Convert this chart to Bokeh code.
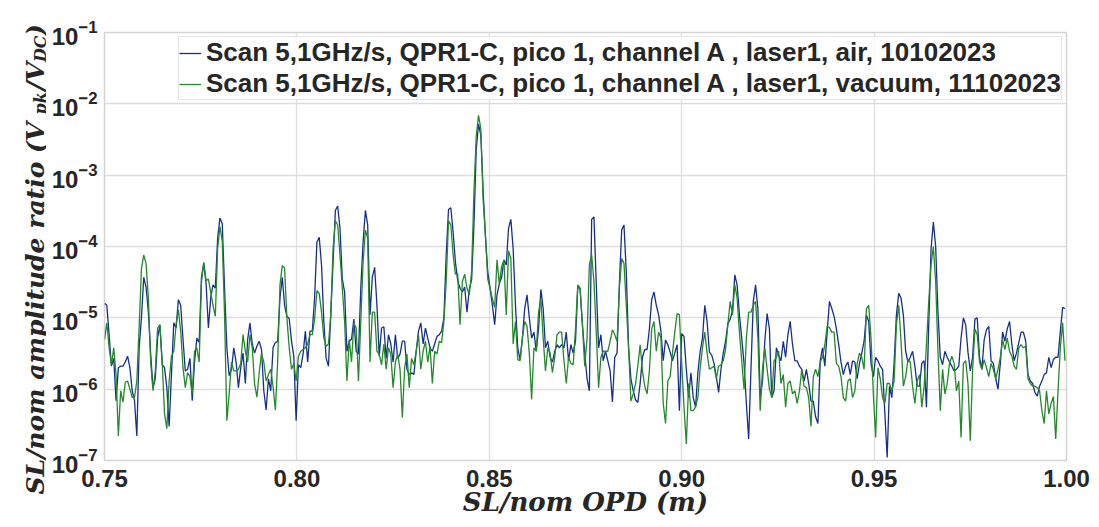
import math
from bokeh.plotting import figure
from bokeh.layouts import row
from bokeh.models import (FixedTicker, LogTickFormatter, PrintfTickFormatter,
                          Legend, LegendItem, Label, Range1d)
from bokeh.embed import file_html
from bokeh.resources import INLINE

# ---------------- data ----------------
X_START = 0.75
X_STEP = 0.0006

x_ticks = [0.75, 0.80, 0.85, 0.90, 0.95, 1.00]
y_ticks = [1e-7, 1e-6, 1e-5, 1e-4, 1e-3, 1e-2, 1e-1]

label_air = "Scan 5,1GHz/s, QPR1-C, pico 1, channel A , laser1, air, 10102023"
label_vac = "Scan 5,1GHz/s, QPR1-C, pico 1, channel A , laser1, vacuum, 11102023"
x_title = "SL/nom OPD (m)"

air = [
    1.6e-5, 1.5e-5, 5.8e-6, 2.1e-6, 2.7e-6, 6.9e-7, 2.0e-6, 2.1e-6, 2.1e-6, 2.4e-6,
    2.9e-6, 2.0e-6, 9.5e-7, 6.9e-7, 2.2e-7, 3.8e-6, 1.0e-5, 3.7e-5, 2.7e-5, 1.2e-5,
    3.1e-6, 1.05e-6, 1.4e-6, 5.2e-6, 8.0e-6, 2.2e-6, 2.0e-6, 1.05e-6, 3.0e-7, 1.6e-6,
    8.5e-6, 7.2e-6, 1.8e-5, 1.5e-5, 5.0e-6, 1.8e-6, 1.9e-6, 2.7e-6, 6.9e-7, 2.4e-6,
    5.2e-6, 4.5e-6, 3.7e-5, 5.8e-5, 3.0e-5, 7.2e-6, 1.9e-5, 2.9e-5, 2.6e-5, 1.3e-4,
    2.5e-4, 2.1e-4, 2.6e-5, 3.8e-6, 1.55e-6, 1.9e-6, 3.8e-6, 2.4e-6, 1.05e-6, 2.0e-6,
    3.2e-6, 1.2e-6, 5.0e-6, 8.5e-6, 4.3e-6, 3.2e-6, 4.0e-6, 4.7e-6, 3.6e-6, 9.5e-7,
    5.1e-7, 1.4e-6, 9.5e-7, 3.8e-6, 4.5e-6, 4.7e-6, 1.9e-5, 3.7e-5, 1.5e-5, 1.05e-5,
    9.8e-6, 4.7e-6, 2.9e-6, 3.6e-7, 2.2e-6, 2.0e-6, 3.1e-6, 6.5e-6, 2.4e-6, 6.5e-6,
    6.5e-6, 1.9e-5, 1.15e-4, 1.35e-4, 5.5e-5, 8.9e-6, 2.7e-6, 2.1e-6, 1.1e-5, 6.0e-5,
    3.2e-4, 3.7e-4, 1.8e-4, 3.5e-5, 2.3e-5, 3.4e-6, 4.7e-6, 5.0e-6, 9.6e-6, 3.4e-6,
    3.1e-6, 2.6e-5, 1.15e-4, 3.2e-4, 2.0e-4, 1.1e-5, 3.7e-5, 5.1e-5, 1.5e-5, 2.9e-6,
    7.2e-6, 7.5e-6, 2.7e-6, 5.8e-6, 4.3e-6, 2.4e-6, 5.8e-6, 2.7e-6, 3.1e-6, 4.7e-6,
    4.7e-6, 1.9e-6, 1.6e-6, 1.7e-6, 1.6e-6, 3.4e-6, 6.5e-6, 8.5e-6, 4.3e-6, 7.2e-6,
    5.2e-6, 3.8e-6, 3.4e-6, 4.3e-6, 5.5e-6, 5.8e-6, 6.5e-6, 1.0e-5, 7.6e-5, 3.3e-4,
    3.5e-4, 1.6e-4, 6.0e-5, 3.3e-5, 2.6e-5, 2.3e-5, 2.7e-5, 1.2e-5, 2.5e-5, 3.4e-5,
    1.9e-4, 2.3e-3, 5.2e-3, 3.6e-3, 6.0e-4, 1.4e-4, 4.4e-5, 2.6e-5, 1.5e-5, 8.0e-6,
    2.1e-5, 3.0e-5, 3.7e-5, 6.5e-5, 5.5e-5, 1.8e-4, 2.4e-4, 9.3e-5, 1.5e-5, 3.8e-6,
    2.6e-6, 5.2e-6, 1.35e-5, 2.1e-5, 1.0e-5, 5.2e-6, 6.3e-6, 3.4e-6, 7.0e-6, 2.5e-5,
    1.35e-5, 3.8e-6, 4.7e-6, 2.8e-6, 2.4e-6, 3.4e-6, 4.2e-6, 3.8e-6, 4.2e-6, 3.8e-6,
    6.3e-6, 2.5e-6, 4.2e-6, 3.2e-6, 4.7e-6, 2.8e-5, 2.5e-5, 8.0e-6, 3.2e-6, 1.4e-6,
    9.5e-7, 2.4e-4, 2.6e-4, 2.9e-5, 3.8e-6, 5.8e-6, 2.5e-6, 3.4e-6, 2.5e-6, 1.8e-6,
    6.6e-7, 2.8e-6, 3.2e-6, 2.9e-5, 1.7e-4, 2.0e-4, 4.4e-5, 3.8e-6, 1.4e-6, 9.5e-7,
    7.1e-7, 6.5e-7, 1.2e-6, 2.8e-6, 3.6e-6, 3.6e-6, 7.0e-6, 1.8e-5, 2.3e-5, 1.5e-5,
    1.1e-5, 6.5e-6, 2.5e-6, 4.9e-6, 4.2e-6, 3.3e-6, 2.5e-6, 3.2e-6, 4.2e-6, 5.0e-7,
    6.0e-6, 5.5e-6, 1.9e-6, 7.6e-7, 1.7e-6, 7.6e-7, 5.6e-7, 1.7e-6, 3.4e-6, 5.2e-6,
    1.5e-5, 8.9e-6, 3.3e-6, 3.0e-6, 2.3e-6, 1.5e-6, 9.0e-7, 1.9e-6, 3.2e-6, 4.7e-6,
    8.3e-6, 9.6e-6, 1.25e-5, 4.0e-5, 2.9e-5, 1.1e-5, 5.2e-6, 2.3e-6, 6.3e-7, 2.0e-7,
    1.9e-6, 1.7e-5, 2.9e-5, 1.35e-5, 7.6e-7, 1.3e-6, 4.7e-6, 1.15e-5, 7.0e-6, 7.6e-7,
    9.5e-7, 3.8e-6, 3.0e-6, 2.5e-6, 4.7e-6, 2.8e-6, 5.8e-6, 8.9e-6, 4.2e-6, 2.5e-6,
    2.5e-6, 2.1e-6, 1.9e-6, 1.3e-6, 1.9e-6, 1.2e-6, 6.8e-7, 6.8e-7, 4.1e-7, 3.3e-7,
    2.5e-6, 3.8e-6, 2.1e-6, 6.3e-6, 1.7e-5, 1.35e-5, 1.05e-5, 7.0e-6, 4.2e-6, 2.4e-6,
    1.6e-6, 2.1e-6, 2.4e-6, 1.6e-6, 2.5e-6, 2.4e-6, 1.4e-6, 2.3e-6, 3.2e-6, 4.7e-6,
    1.1e-5, 8.9e-6, 2.3e-6, 1.5e-6, 2.8e-6, 2.5e-6, 2.1e-6, 1.9e-6, 4.5e-7, 1.1e-7,
    1.1e-6, 7.6e-7, 2.3e-6, 1.1e-5, 2.2e-5, 1.9e-5, 1.1e-5, 3.4e-6, 2.4e-6, 2.8e-6,
    3.4e-6, 2.1e-6, 1.1e-6, 1.1e-6, 2.3e-6, 2.5e-6, 5.6e-7, 8.0e-6, 9.3e-5, 2.2e-4,
    1.0e-4, 1.2e-5, 2.8e-6, 2.2e-6, 3.4e-6, 2.8e-6, 2.4e-6, 2.1e-6, 1.8e-6, 1.9e-6,
    2.1e-6, 5.2e-6, 1.0e-5, 8.0e-6, 3.3e-6, 1.8e-6, 2.8e-6, 9.6e-6, 1.0e-5, 2.8e-6,
    1.9e-6, 4.9e-6, 6.8e-6, 7.6e-6, 2.5e-6, 2.3e-6, 1.4e-6, 1.0e-6, 2.3e-6, 6.3e-6,
    4.7e-6, 7.0e-6, 8.9e-6, 4.2e-6, 2.5e-6, 3.2e-6, 4.5e-6, 6.3e-6, 6.3e-6, 4.7e-6,
    1.6e-6, 1.3e-6, 1.2e-6, 9.0e-7, 8.0e-7, 1.1e-6, 1.3e-6, 1.6e-6, 1.7e-6, 2.8e-6,
    2.0e-6, 2.6e-6, 2.8e-6, 2.8e-6, 6.5e-6, 1.4e-5, 1.35e-5,
]

vacuum = [
    5.0e-6, 8.5e-6, 3.8e-6, 2.2e-6, 3.8e-6, 1.6e-6, 2.2e-7, 9.5e-7, 6.6e-7, 1.25e-6,
    1.3e-6, 1.0e-6, 7.7e-7, 7.7e-7, 1.3e-6, 7.2e-6, 4.9e-5, 7.6e-5, 5.8e-5, 1.9e-5,
    2.4e-6, 9.5e-7, 1.8e-6, 7.2e-6, 8.0e-6, 2.4e-6, 4.5e-7, 2.8e-7, 1.3e-6, 2.9e-6,
    3.4e-6, 8.0e-6, 1.3e-5, 6.5e-6, 2.0e-6, 1.05e-6, 1.7e-6, 1.5e-6, 8.6e-7, 3.4e-6,
    3.8e-6, 2.4e-6, 3.2e-5, 6.0e-5, 3.3e-5, 3.5e-5, 2.3e-5, 1.5e-5, 1.05e-5, 9.3e-5,
    1.9e-4, 1.2e-4, 1.1e-5, 3.6e-7, 8.6e-7, 2.4e-6, 1.8e-6, 1.8e-6, 1.9e-6, 2.3e-6,
    5.8e-6, 3.4e-6, 2.4e-6, 5.8e-6, 3.8e-6, 1.2e-6, 7.7e-7, 1.7e-6, 3.2e-6, 2.4e-6,
    1.3e-6, 1.6e-6, 1.9e-6, 1.1e-6, 5.1e-7, 2.4e-6, 2.9e-5, 5.4e-5, 5.0e-5, 1.0e-5,
    3.8e-6, 1.9e-6, 2.3e-6, 1.3e-6, 2.9e-6, 3.4e-6, 3.6e-6, 3.8e-6, 4.3e-6, 5.8e-6,
    5.8e-6, 9.6e-6, 2.4e-5, 2.2e-5, 1.2e-5, 5.2e-6, 4.0e-6, 4.3e-6, 1.1e-5, 9.3e-5,
    2.3e-4, 2.0e-4, 7.6e-5, 2.6e-5, 8.9e-6, 1.3e-6, 5.0e-6, 2.4e-6, 8.5e-6, 7.2e-6,
    1.3e-6, 8.9e-6, 6.0e-5, 1.7e-4, 1.3e-4, 2.4e-6, 1.2e-5, 1.2e-5, 3.4e-6, 3.1e-6,
    2.2e-6, 4.3e-6, 1.9e-6, 3.8e-6, 3.1e-6, 1.05e-6, 2.4e-6, 3.1e-6, 1.9e-6, 4.0e-7,
    2.0e-6, 3.1e-6, 1.05e-6, 2.7e-6, 2.2e-6, 3.4e-6, 5.8e-6, 1.9e-6, 3.4e-6, 4.7e-6,
    2.4e-6, 4.0e-6, 1.2e-6, 3.4e-6, 3.1e-6, 4.7e-6, 4.5e-6, 8.9e-6, 3.2e-5, 2.3e-4,
    2.0e-4, 7.6e-5, 4.1e-5, 4.1e-5, 8.0e-6, 3.2e-5, 4.1e-5, 2.6e-5, 2.1e-5, 4.5e-5,
    5.6e-4, 3.5e-3, 6.9e-3, 4.5e-3, 4.5e-4, 1.4e-4, 3.5e-5, 2.6e-5, 1.85e-5, 1.4e-5,
    6.5e-5, 3.0e-5, 5.2e-5, 6.5e-5, 1.1e-5, 8.7e-5, 6.8e-5, 4.3e-6, 8.9e-6, 2.6e-6,
    2.5e-6, 5.2e-6, 8.9e-6, 7.6e-6, 3.2e-6, 7.2e-7, 3.8e-6, 3.4e-6, 1.2e-5, 1.85e-5,
    5.2e-6, 1.8e-6, 3.8e-6, 3.2e-6, 1.7e-6, 2.8e-6, 5.8e-6, 6.3e-6, 6.3e-6, 2.5e-6,
    1.2e-6, 2.8e-6, 2.3e-6, 2.2e-6, 7.0e-6, 2.9e-5, 2.6e-5, 8.0e-6, 2.1e-6, 5.2e-6,
    5.5e-5, 7.6e-5, 3.2e-5, 6.3e-6, 1.05e-6, 2.8e-6, 3.4e-6, 3.4e-6, 3.4e-6, 4.7e-6,
    6.8e-6, 5.8e-6, 4.7e-6, 2.6e-5, 6.8e-5, 5.8e-5, 1.5e-5, 3.8e-6, 6.8e-7, 8.6e-7,
    1.2e-6, 2.1e-6, 4.2e-6, 1.8e-6, 1.1e-6, 8.6e-7, 1.8e-6, 7.0e-6, 8.9e-6, 3.4e-6,
    6.3e-6, 5.2e-6, 6.3e-7, 3.3e-7, 1.3e-6, 1.5e-6, 3.2e-6, 6.3e-6, 1.15e-5, 1.1e-5,
    2.3e-6, 5.6e-7, 1.7e-7, 1.2e-6, 5.0e-7, 5.0e-7, 5.6e-7, 7.6e-7, 2.0e-6, 3.8e-6,
    6.3e-6, 3.2e-6, 1.9e-6, 2.0e-6, 2.1e-6, 1.4e-6, 2.1e-6, 2.2e-6, 2.5e-6, 3.6e-6,
    8.0e-6, 1.7e-5, 1.1e-5, 2.9e-5, 1.9e-5, 6.3e-6, 2.5e-6, 1.0e-6, 5.2e-6, 1.2e-5,
    1.2e-5, 1.5e-5, 1.7e-5, 5.2e-6, 5.0e-7, 1.9e-6, 3.8e-6, 1.9e-6, 1.0e-6, 7.6e-7,
    2.5e-6, 2.8e-6, 3.4e-6, 1.2e-6, 1.6e-6, 5.6e-7, 1.2e-6, 1.3e-6, 8.6e-7, 9.5e-7,
    6.3e-7, 9.5e-7, 1.9e-6, 1.1e-6, 1.05e-6, 7.6e-7, 3.0e-7, 1.5e-6, 1.9e-6, 1.5e-6,
    2.4e-6, 2.8e-6, 4.2e-6, 7.6e-6, 7.3e-6, 6.3e-6, 6.3e-6, 2.3e-6, 2.1e-6, 1.5e-6,
    7.6e-7, 6.8e-7, 1.3e-6, 1.4e-6, 7.6e-7, 9.5e-7, 2.3e-6, 3.2e-6, 2.8e-6, 1.9e-6,
    1.35e-5, 1.5e-5, 5.2e-6, 8.6e-7, 2.1e-7, 2.0e-6, 1.4e-6, 7.6e-7, 6.3e-7, 1.2e-6,
    1.2e-6, 9.5e-7, 1.3e-6, 8.0e-6, 1.5e-5, 4.7e-6, 1.1e-6, 1.5e-6, 2.6e-6, 2.4e-6,
    1.1e-6, 6.3e-7, 1.3e-6, 1.6e-6, 5.6e-7, 1.1e-6, 4.2e-6, 1.7e-5, 5.5e-5, 1.0e-4,
    3.2e-5, 3.4e-6, 5.0e-7, 1.9e-6, 8.6e-7, 1.2e-6, 2.3e-6, 2.9e-6, 2.3e-6, 9.5e-7,
    1.3e-6, 2.1e-7, 2.3e-6, 2.5e-6, 1.2e-6, 1.9e-7, 1.9e-6, 7.0e-6, 5.8e-6, 2.4e-6,
    1.9e-6, 2.6e-6, 2.0e-6, 1.5e-6, 2.3e-6, 1.9e-6, 1.4e-6, 1.9e-6, 2.8e-6, 4.9e-6,
    3.6e-6, 5.2e-6, 3.4e-6, 2.9e-6, 2.1e-6, 1.9e-6, 3.8e-6, 4.2e-6, 3.8e-6, 4.0e-6,
    1.4e-6, 1.2e-6, 1.1e-6, 1.1e-6, 1.05e-6, 9.5e-7, 5.0e-7, 3.3e-7, 9.5e-7, 4.5e-7,
    6.3e-7, 7.9e-7, 2.0e-7, 9.5e-7, 3.8e-6, 8.5e-6, 2.5e-6,
]

x_air = [X_START + X_STEP * i for i in range(len(air))]
x_vac = [X_START + X_STEP * i for i in range(len(vacuum))]

# ---------------- styling ----------------
BLUE = "#15308c"
GREEN = "#23892a"
TEXT = "#262626"
GRID = "#dedede"
SANS = "Liberation Sans"
SERIF = "DejaVu Serif"
H = 519
YL_W = 46

p = figure(width=1091 - YL_W, height=H, y_axis_type="log",
           x_range=Range1d(0.75, 1.0), y_range=Range1d(1e-7, 1e-1),
           output_backend="svg", toolbar_location=None, title=None,
           min_border_left=104 - YL_W, min_border_right=25,
           min_border_top=32, min_border_bottom=55)

p.background_fill_color = "white"
p.border_fill_color = "white"
p.outline_line_color = "#d4d4d4"
p.outline_line_width = 1.5

for g in (p.xgrid, p.ygrid):
    g.grid_line_color = GRID
    g.grid_line_width = 1.3

p.xaxis.ticker = FixedTicker(ticks=x_ticks)
p.xaxis.formatter = PrintfTickFormatter(format="%.2f")
p.yaxis.ticker = FixedTicker(ticks=y_ticks)
p.yaxis.formatter = LogTickFormatter()

for ax in (p.xaxis, p.yaxis):
    ax.axis_line_color = None
    ax.major_tick_line_color = None
    ax.minor_tick_line_color = None
    ax.major_tick_out = 0
    ax.major_tick_in = 0
    ax.major_label_text_font = SANS
    ax.major_label_text_font_style = "bold"
    ax.major_label_text_font_size = "24px"
    ax.major_label_text_color = TEXT
p.xaxis.major_label_standoff = 9
p.yaxis.major_label_standoff = 7

p.xaxis.axis_label = x_title
p.xaxis.axis_label_text_font = SERIF
p.xaxis.axis_label_text_font_style = "bold italic"
p.xaxis.axis_label_text_font_size = "26px"
p.xaxis.axis_label_text_color = TEXT
p.xaxis.axis_label_standoff = -3

r_air = p.line(x_air, air, line_color=BLUE, line_width=1.3)
r_vac = p.line(x_vac, vacuum, line_color=GREEN, line_width=1.3)

legend = Legend(items=[LegendItem(label=label_air, renderers=[r_air]),
                       LegendItem(label=label_vac, renderers=[r_vac])],
                location="top_right")
legend.label_text_font = SANS
legend.label_text_font_style = "bold"
legend.label_text_font_size = "26px"
legend.label_text_color = TEXT
legend.glyph_width = 22
legend.glyph_height = 20
legend.label_standoff = 5
legend.padding = 0
legend.spacing = -4
legend.margin = 4
legend.border_line_color = "#cccccc"
legend.border_line_width = 1
legend.background_fill_alpha = 0.8
p.add_layout(legend)

# ---------------- y title: a narrow strip holding rotated rich text ----------------
yl = figure(width=YL_W, height=H, output_backend="svg", toolbar_location=None,
            title=None, x_axis_type=None, y_axis_type=None, min_border=0)
yl.outline_line_color = None
yl.background_fill_color = "white"
yl.border_fill_color = "white"

for fig in (yl, p):
    if "frame_align" in fig.properties():
        fig.frame_align = False


def piece(text, x, y, size):
    return Label(x=x, y=y, x_units="screen", y_units="screen", text=text,
                 angle=math.pi / 2, text_font=SERIF, text_font_style="bold italic",
                 text_font_size=size, text_color=TEXT,
                 text_baseline="alphabetic", text_align="left")


BX = 35
Y0 = 25
yl.add_layout(piece("SL/nom amplitude ratio (V", BX, Y0, "25px"))
yl.add_layout(piece("pk", BX + 4.5, Y0 + 380, "16px"))
yl.add_layout(piece("/V", BX, Y0 + 404, "25px"))
yl.add_layout(piece("DC", BX + 4.5, Y0 + 432.5, "16px"))
yl.add_layout(piece(")", BX, Y0 + 458.5, "25px"))

layout = row(yl, p, spacing=0)
open("out.html", "w").write(file_html(layout, INLINE))
